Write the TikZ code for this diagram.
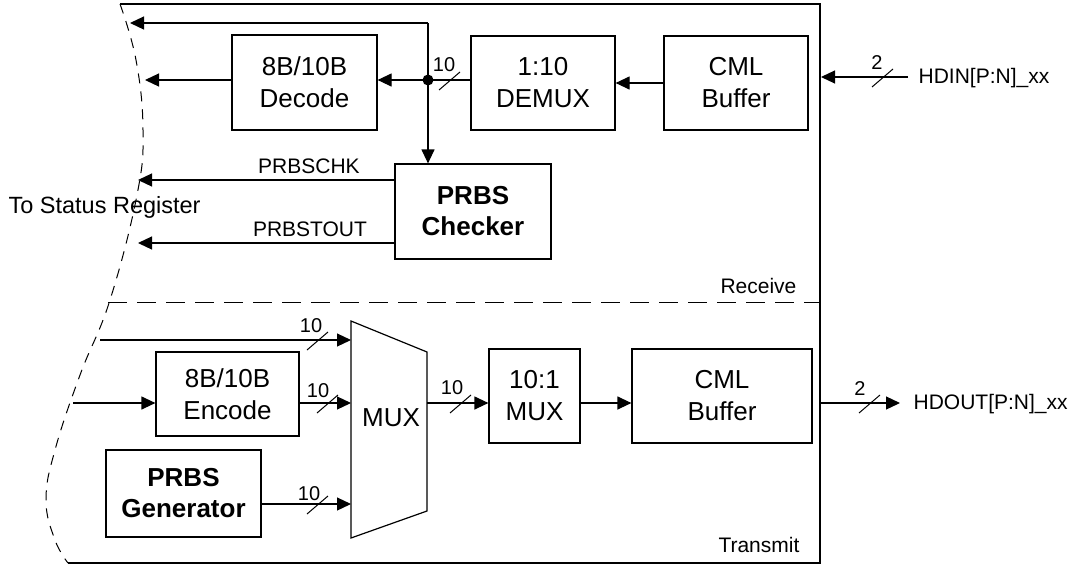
\documentclass[tikz,border=0pt]{standalone}
\usepackage{fontspec}
\setmainfont{Liberation Sans}
\usetikzlibrary{arrows.meta}
\newcommand\busmark[5]{%
  \draw[line width=1pt] (#1-10,#2+10) -- (#1+11,#2-8);
  \node[num] at (#3,#4) {#5};}
\begin{document}
\begin{tikzpicture}[x=1pt,y=-1pt,
  line width=1.2pt,
  box/.style={draw, line width=1.2pt, align=center, inner sep=0pt, font=\fontsize{26}{32}\selectfont},
  bbox/.style={box, font=\fontsize{26}{31}\selectfont\bfseries},
  arr/.style={-{Triangle[length=14pt,width=13pt]}},
  sig/.style={inner sep=0pt, font=\fontsize{21}{25}\selectfont},
  num/.style={inner sep=0pt, font=\fontsize{20}{24}\selectfont, anchor=base},
  curve/.style={dash pattern=on 10pt off 8pt, line width=1pt},
  sepline/.style={dash pattern=on 19pt off 10pt, line width=1pt}]
\useasboundingbox (0,0) rectangle (1073,565);

% frame
\draw (120,4) -- (820,4) -- (820,563) -- (68,563);
\draw[curve] plot[smooth, tension=0.7] coordinates {(120,4) (136,60) (143,130) (137,195) (110,300) (80,375) (55,450) (46,500) (55,540) (68,563)};
\draw[sepline] (108,302) -- (820,302);

% receive blocks
\node[box, minimum width=145pt, minimum height=95pt] (dec) at (304.5,82.5) {8B/10B\\Decode};
\node[box, minimum width=144pt, minimum height=94pt] (demux) at (543,83) {1:10\\DEMUX};
\node[box, minimum width=144pt, minimum height=94pt] (cmlr) at (736,83) {CML\\Buffer};
\node[bbox, minimum width=156pt, minimum height=95pt] (chk) at (473,211.5) {PRBS\\Checker};

% transmit blocks
\node[box, minimum width=143pt, minimum height=84pt] (enc) at (227.5,394) {8B/10B\\Encode};
\node[bbox, minimum width=155pt, minimum height=87pt] (gen) at (183.5,493.5) {PRBS\\Generator};
\node[box, minimum width=91pt, minimum height=94pt] (mux10) at (534.5,396) {10:1\\MUX};
\node[box, minimum width=180pt, minimum height=94pt] (cmlt) at (722,396) {CML\\Buffer};

% MUX trapezoid
\coordinate (m1) at (351,321);
\coordinate (m2) at (427,352);
\coordinate (m3) at (427,511);
\coordinate (m4) at (351,538);
\draw (m1) -- (m2) -- (m3) -- (m4) -- cycle;
\node[font=\fontsize{26}{32}\selectfont, inner sep=0pt] (muxl) at (391,418) {MUX};

% coordinates
\coordinate (jt) at (428,23);
\coordinate (j) at (428,80);
\coordinate (o1) at (130,23);
\coordinate (o2) at (145,80);
\coordinate (o3) at (138,180);
\coordinate (o4) at (138,243);
\coordinate (frR) at (821,77);
\coordinate (hin) at (908,77);
\coordinate (t1) at (100,340);
\coordinate (t2) at (73,403);
\coordinate (yT) at (0,403);
\coordinate (frT) at (820,403);
\coordinate (hout) at (900,403);

% receive connections
\draw[arr] (jt) -- (o1);
\draw (jt) -- (j);
\draw[arr] (j) -- (jt |- chk.north);
\draw (demux.west |- j) -- (j);
\draw[arr] (j) -- (dec.east |- j);
\fill (j) circle (5.5pt);
\draw[arr] (dec.west |- o2) -- (o2);
\draw[arr] (cmlr.west) -- (demux.east);
\draw[arr] (hin) -- (frR);
\draw[arr] (chk.west |- o3) -- (o3);
\draw[arr] (chk.west |- o4) -- (o4);

% transmit connections
\draw[arr] (t1) -- (m1 |- t1);
\draw[arr] (t2) -- (enc.west |- t2);
\draw[arr] (enc.east |- yT) -- (m1 |- yT);
\draw[arr] (gen.east |- 0,504) -- (m1 |- 0,504);
\draw[arr] (m2 |- yT) -- (mux10.west |- yT);
\draw[arr] (mux10.east |- yT) -- (cmlt.west |- yT);
\draw[arr] (frT) -- (hout);

% bus marks
\busmark{449}{80}{444}{71}{10}
\busmark{882}{77}{877}{69}{2}
\busmark{317}{340}{311}{332}{10}
\busmark{327}{403}{318}{397}{10}
\busmark{317}{504}{309}{500}{10}
\busmark{460}{403}{452}{394}{10}
\busmark{869}{403}{860}{395}{2}

% labels
\node[sig, anchor=base west] (hdintxt) at (918,83) {HDIN[P:N]\_xx};
\node[sig, anchor=base west] (hdouttxt) at (913,409) {HDOUT[P:N]\_xx};
\node[sig, anchor=base] (chkl) at (309,173) {PRBSCHK};
\node[sig, anchor=base] (toutl) at (310,236) {PRBSTOUT};
\node[inner sep=0pt, anchor=base west, font=\fontsize{23.5}{28}\selectfont] (tsr) at (8,213) {To Status Register};
\node[sig, anchor=base east] (rx) at (797,293) {Receive};
\node[sig, anchor=base east] (tx) at (800,552) {Transmit};
\end{tikzpicture}
\end{document}
